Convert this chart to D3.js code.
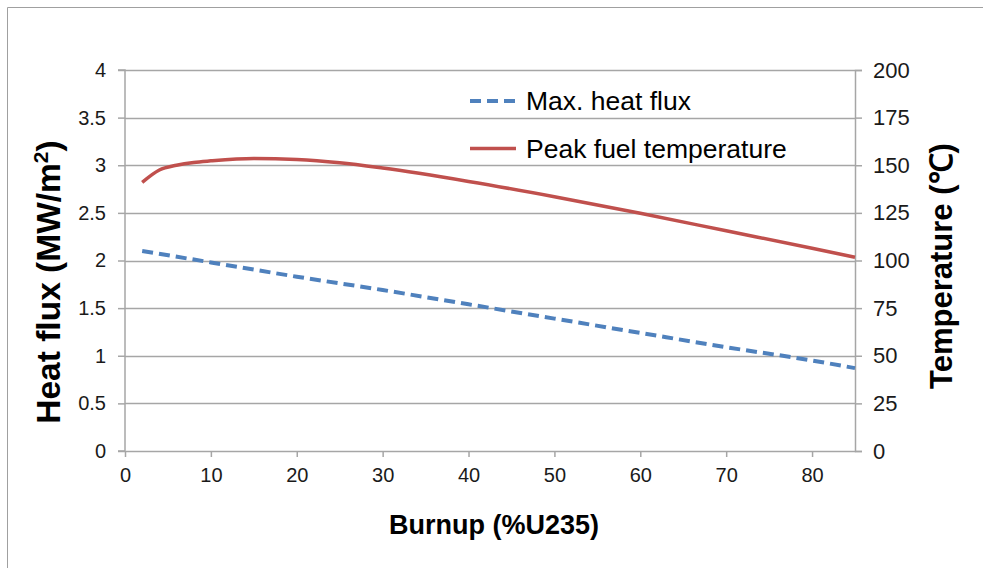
<!DOCTYPE html>
<html>
<head>
<meta charset="utf-8">
<script src="https://cdn.jsdelivr.net/npm/d3@7"></script>
<style>
  body { margin: 0; background: #fff; }
  svg { display: block; }
</style>
</head>
<body>
<svg id="chart" width="983" height="568"></svg>
<script>
// data
const burnupTemp = [2, 4, 6, 8, 10, 15, 20, 25, 30, 40, 50, 60, 70, 80, 85];
const peakTemp = [141, 147.5, 150, 151.5, 152.3, 153.5, 153, 151.3, 148.5, 141.5, 133.5, 124.8, 115.6, 106.4, 101.7];
const burnupFlux = [2, 10, 20, 30, 40, 50, 60, 70, 80, 85];
const maxFlux = [2.10, 1.98, 1.83, 1.69, 1.54, 1.39, 1.24, 1.09, 0.95, 0.87];
const xTicks = [0, 10, 20, 30, 40, 50, 60, 70, 80];
const fluxTicks = [0, 0.5, 1, 1.5, 2, 2.5, 3, 3.5, 4];
const tempTicks = [0, 25, 50, 75, 100, 125, 150, 175, 200];
const seriesNames = ["Max. heat flux", "Peak fuel temperature"];

const font = "'Liberation Sans', Arial, sans-serif";
const gridColor = "#a6a6a6";
const blue = "#4f81bd", red = "#c0504d";

const margin = {left: 125, right: 128, top: 70, bottom: 117};
const width = 983 - margin.left - margin.right;
const height = 568 - margin.top - margin.bottom;

const svg = d3.select("#chart").attr("font-family", font);

// outer frame (top and left edge visible)
svg.append("line").attr("x1", 7.5).attr("x2", 983).attr("y1", 7.5).attr("y2", 7.5)
    .attr("stroke", "#a0a0a0");
svg.append("line").attr("x1", 7.5).attr("x2", 7.5).attr("y1", 7.5).attr("y2", 568)
    .attr("stroke", "#a0a0a0");

const x = d3.scaleLinear().domain([0, 85]).range([0, width]);
const yL = d3.scaleLinear().domain([0, 4]).range([height, 0]);
const yR = d3.scaleLinear().domain([0, 200]).range([height, 0]);

const g = svg.append("g").attr("transform", `translate(${margin.left},${margin.top})`);

// gridlines
g.append("g").selectAll("line").data(fluxTicks.slice(1)).enter().append("line")
    .attr("x1", 0).attr("x2", width)
    .attr("y1", d => Math.round(yL(d)) + 0.5).attr("y2", d => Math.round(yL(d)) + 0.5)
    .attr("stroke", gridColor).attr("stroke-width", 1.5);

// left axis
const axL = g.append("g")
    .call(d3.axisLeft(yL).tickValues(fluxTicks).tickSize(7).tickPadding(12).tickFormat(d3.format("")));
// right axis
const axR = g.append("g").attr("transform", `translate(${width},0)`)
    .call(d3.axisRight(yR).tickValues(tempTicks).tickSize(7).tickPadding(11));
// bottom axis
const axB = g.append("g").attr("transform", `translate(0,${height})`)
    .call(d3.axisBottom(x).tickValues(xTicks).tickSize(6).tickPadding(11).tickSizeOuter(0));

[axL, axR, axB].forEach(a => {
    a.selectAll(".domain").attr("stroke", gridColor).attr("stroke-width", 1.5);
    a.selectAll(".tick line").attr("stroke", gridColor).attr("stroke-width", 1.5);
    a.selectAll("text").attr("fill", "#1a1a1a").attr("font-family", font);
});
axL.selectAll("text").attr("font-size", 20);
axB.selectAll("text").attr("font-size", 20);
axR.selectAll("text").attr("font-size", 22);
axL.select(".domain").attr("d", `M-7,${height}H0V0H-7`);

// lines
const lineFlux = d3.line()
    .x((d, i) => x(burnupFlux[i]))
    .y(d => yL(d))
    .curve(d3.curveMonotoneX);
const lineTemp = d3.line()
    .x((d, i) => x(burnupTemp[i]))
    .y(d => yR(d))
    .curve(d3.curveMonotoneX);

g.append("path").datum(maxFlux).attr("d", lineFlux)
    .attr("fill", "none").attr("stroke", blue).attr("stroke-width", 4)
    .attr("stroke-dasharray", "11,6");
g.append("path").datum(peakTemp).attr("d", lineTemp)
    .attr("fill", "none").attr("stroke", red).attr("stroke-width", 3.5);

// legend
const legend = svg.append("g").attr("transform", "translate(470,101)");
seriesNames.forEach((name, i) => {
    const row = legend.append("g").attr("transform", `translate(0,${i * 47.5})`);
    row.append("line").attr("x1", 0).attr("x2", 46).attr("y1", 0).attr("y2", 0)
        .attr("stroke", i === 0 ? blue : red).attr("stroke-width", i === 0 ? 4 : 3.5)
        .attr("stroke-dasharray", i === 0 ? "11,6" : null);
    row.append("text").attr("x", 56).attr("y", 0).attr("dy", "0.35em")
        .attr("font-size", 26.5).attr("fill", "#000").text(name);
});

// axis titles
svg.append("text")
    .attr("transform", `translate(60,282)rotate(-90)`)
    .attr("text-anchor", "middle").attr("font-size", 33.5).attr("font-weight", "bold")
    .html("Heat flux (MW/m<tspan dy='-12' font-size='21'>2</tspan><tspan dy='12'>)</tspan>");
svg.append("text")
    .attr("transform", `translate(952,266)rotate(-90)`)
    .attr("text-anchor", "middle").attr("font-size", 31).attr("font-weight", "bold")
    .text("Temperature (℃)");
svg.append("text")
    .attr("x", 494).attr("y", 534)
    .attr("text-anchor", "middle").attr("font-size", 27).attr("font-weight", "bold")
    .text("Burnup (%U235)");
</script>
</body>
</html>
